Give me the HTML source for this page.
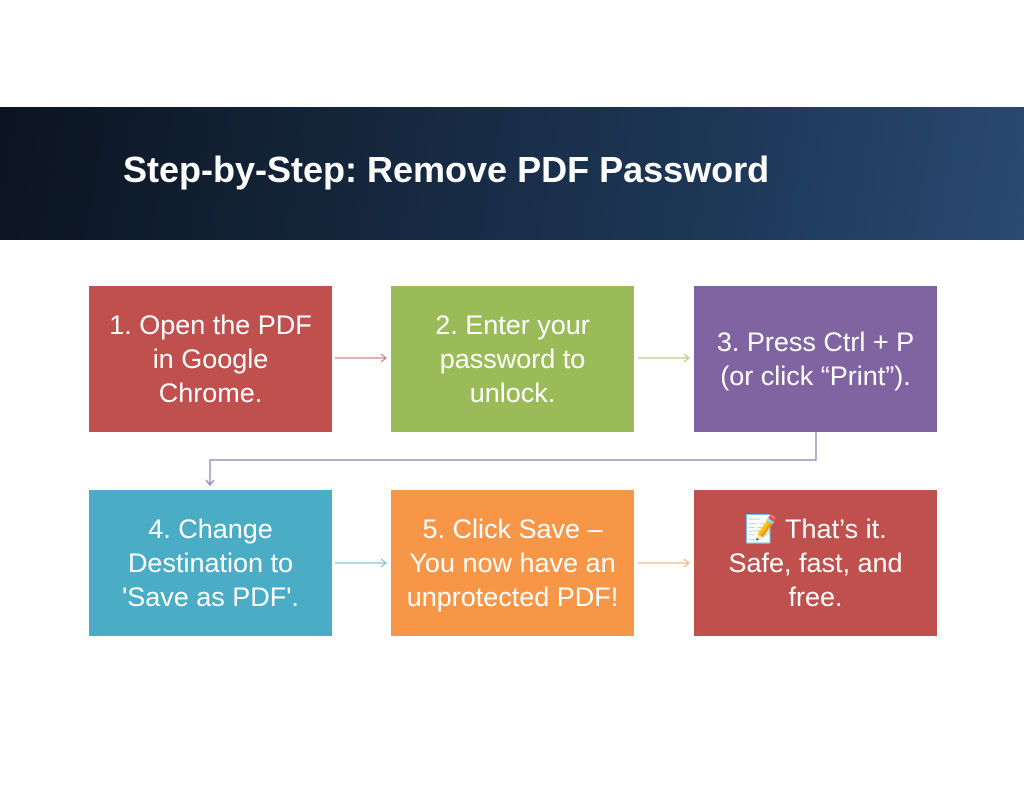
<!DOCTYPE html>
<html><head><meta charset="utf-8"><style>
body{margin:0;width:1024px;height:791px;background:#fff;position:relative;overflow:hidden;font-family:"Liberation Sans",sans-serif}
.hdr{position:absolute;left:0;top:107px;width:1024px;height:133px;background:linear-gradient(100deg,#0b1420 0%,#15263c 35%,#1f3a5c 75%,#2a4a70 100%)}
.title{position:absolute;left:123px;top:149px;color:#fff;font-weight:bold;font-size:36px;letter-spacing:0px}
.b{position:absolute;width:243px;height:146px;display:flex;align-items:center;justify-content:center;text-align:center;color:#fff;font-size:27px;line-height:34px;white-space:nowrap}
</style></head><body>
<div class="hdr"></div>
<div class="title">Step-by-Step: Remove PDF Password</div>
<div class="b" style="left:89px;top:286px;background:#c0504d">1. Open the PDF<br>in Google<br>Chrome.</div>
<div class="b" style="left:391px;top:286px;background:#9bbb59">2. Enter your<br>password to<br>unlock.</div>
<div class="b" style="left:694px;top:286px;background:#8064a2">3. Press Ctrl + P<br>(or click “Print”).</div>
<div class="b" style="left:89px;top:490px;background:#4bacc6">4. Change<br>Destination to<br>'Save as PDF'.</div>
<div class="b" style="left:391px;top:490px;background:#f79646">5. Click Save –<br>You now have an<br>unprotected PDF!</div>
<div class="b" style="left:694px;top:490px;background:#c0504d">📝 That’s it.<br>Safe, fast, and<br>free.</div>
<svg width="1024" height="791" style="position:absolute;left:0;top:0" fill="none">
<g stroke="#d08080" stroke-width="1.2"><path d="M335 358H386M381 354L386 358L381 362"/></g>
<g stroke="#b5cc88" stroke-width="1.2"><path d="M638 358H689M684 354L689 358L684 362"/></g>
<g stroke="#a090c0" stroke-width="1.5"><path d="M816 432V460H210V485M206 480L210 485L214 480"/></g>
<g stroke="#80c4d8" stroke-width="1.2"><path d="M335 563H386M381 559L386 563L381 567"/></g>
<g stroke="#f5b880" stroke-width="1.2"><path d="M638 563H689M684 559L689 563L684 567"/></g>
</svg>
</body></html>
